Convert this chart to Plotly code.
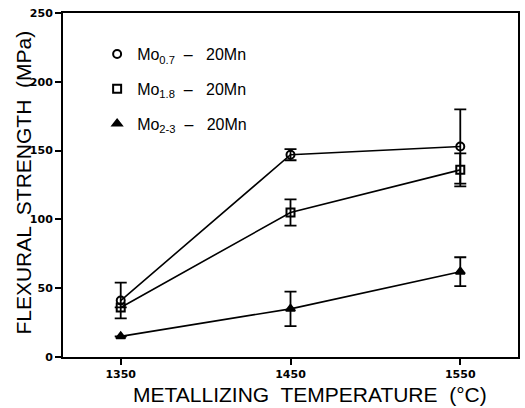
import plotly.graph_objects as go

temps = [1350, 1450, 1550]
names = ["Mo<sub>0.7</sub>  –   20Mn", "Mo<sub>1.8</sub>  –   20Mn", "Mo<sub>2-3</sub>  –   20Mn"]
mo07 = [41, 147, 153]
mo07_err = [13, 4, 27]
mo18 = [36, 105, 136]
mo18_err = [0, 9.5, 12]
mo23 = [15, 35, 62]
mo23_err = [0, 12.5, 10.5]
x_title = "METALLIZING  TEMPERATURE  (°C)"
y_title = "FLEXURAL  STRENGTH  (MPa)"

series = [
    (names[0], mo07, mo07_err, "circle-open"),
    (names[1], mo18, mo18_err, "square-open"),
    (names[2], mo23, mo23_err, "triangle-up"),
]

fig = go.Figure()
for i, (nm, ys, errs, sym) in enumerate(series):
    fig.add_trace(go.Scatter(
        x=temps, y=ys, mode="lines", showlegend=False,
        line=dict(color="black", width=1.6), hoverinfo="skip"))
    fig.add_trace(go.Scatter(
        x=temps, y=ys, mode="markers", name=nm, legendgroup=f"g{i}",
        marker=dict(symbol=sym, size=8, color="black",
                    line=dict(color="black", width=2)),
        error_y=dict(type="data", array=errs, visible=True,
                     color="black", thickness=1.8, width=6)))

tickfont = dict(family="DejaVu Sans, sans-serif", size=11, color="black", weight="bold")
titlefont = dict(family="Liberation Sans, Arial, sans-serif", size=21, color="black")

fig.update_layout(
    width=525, height=408,
    margin=dict(l=63, r=5, t=13, b=51),
    paper_bgcolor="white", plot_bgcolor="white",
    showlegend=True,
    legend=dict(x=0.075, y=0.93, xanchor="left", yanchor="top",
                bgcolor="rgba(0,0,0,0)", borderwidth=0,
                tracegroupgap=11, traceorder="grouped",
                font=dict(family="Liberation Sans, Arial, sans-serif", size=16, color="black")),
    xaxis=dict(range=[1316, 1584], tickvals=temps, ticktext=[str(t) for t in temps],
               showgrid=False, zeroline=False, showline=True, linecolor="black", linewidth=2,
               mirror=True, ticks="outside", ticklen=6, tickwidth=1.5, tickcolor="black",
               tickfont=tickfont),
    yaxis=dict(range=[0, 250], tickvals=[0, 50, 100, 150, 200, 250],
               showgrid=False, zeroline=False, showline=True, linecolor="black", linewidth=2,
               mirror=True, ticks="outside", ticklen=6, tickwidth=1.5, tickcolor="black",
               tickfont=tickfont),
    annotations=[
        dict(text=x_title, xref="paper", yref="paper", x=0.543, y=-0.108,
             xanchor="center", yanchor="middle", showarrow=False, font=titlefont),
        dict(text=y_title, xref="paper", yref="paper", x=-0.0864, y=0.506,
             xanchor="center", yanchor="middle", showarrow=False, font=titlefont,
             textangle=-90),
    ],
)

fig.write_html("out.html")
